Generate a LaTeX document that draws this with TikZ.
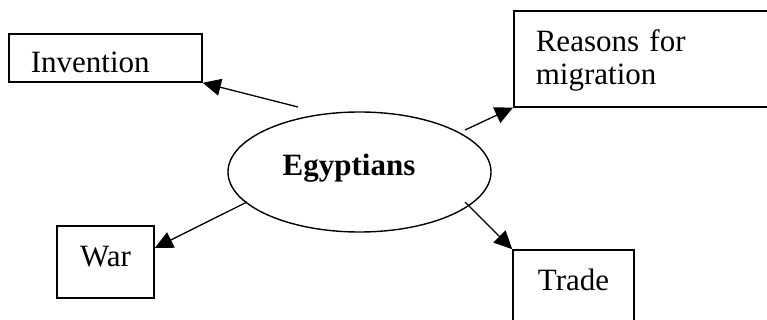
\documentclass[tikz,border=0pt]{standalone}
\usepackage{fontspec}
\setmainfont{Liberation Serif}
\usetikzlibrary{shapes.geometric, arrows.meta}

\begin{document}
\begin{tikzpicture}[x=1pt, y=-1pt, font=\fontsize{31}{32.5}\selectfont,
        box/.style={draw, line width=1.6pt, inner sep=0pt},
        link/.style={-{Triangle[length=18pt, width=17pt]}, line width=1.3pt}]
        \useasboundingbox (0,0) rectangle (767,320);
        \clip (0,0) rectangle (767,320);

        \node[draw, ellipse, line width=1.4pt, minimum width=263pt, minimum height=120pt, inner sep=0pt,
              label={[anchor=base, xshift=-10.5pt, yshift=3.5pt]center:{\bfseries Egyptians}}] (egypt) at (359.5,172) {};

        \node[box, minimum width=193pt, minimum height=48pt] (invention) at (105.5,58) {};
        \begin{scope}
            \clip (invention.north west) rectangle ([yshift=10pt]invention.south east);
            \node[anchor=base west, inner sep=0pt] (inventiontext) at ([xshift=22.5pt, yshift=-39.5pt]invention.north west) {Invention};
        \end{scope}

        \node[box, anchor=north west, minimum height=96pt, text width=260pt, inner xsep=22pt, align=left, text height=25pt] (reasons) at (513,10) {Reasons for\\migration};

        \node[box, minimum width=97pt, minimum height=72pt, text depth=11pt] (war) at (105.5,262) {War};
        \node[box, minimum width=121pt, minimum height=80pt, text depth=20pt] (trade) at (573.5,290) {Trade};

        \draw[link] ([shift={(-61.5,-65)}]egypt.center) -- (invention.south east);
        \draw[link] ([shift={(105.5,-42)}]egypt.center) -- (reasons.south west);
        \draw[link] ([shift={(-112.5,30)}]egypt.center) -- ([yshift=14pt]war.east);
        \draw[link] ([shift={(105.5,30)}]egypt.center) -- (trade.north west);
\end{tikzpicture}
\end{document}
